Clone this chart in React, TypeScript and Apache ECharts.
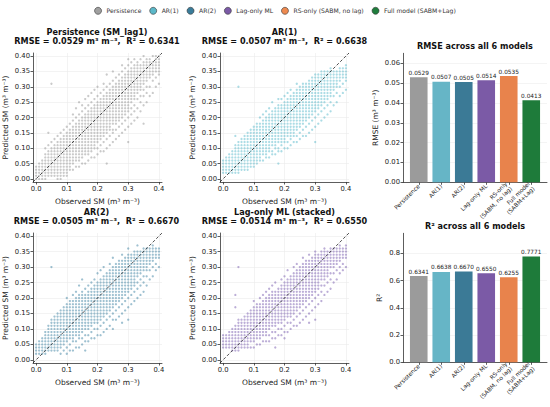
import React, { useEffect, useRef } from "react";
import * as echarts from "echarts";

// ---------------- data ----------------
const modelNames = [
  "Persistence",
  "AR(1)",
  "AR(2)",
  "Lag-only ML",
  "RS-only (SABM, no lag)",
  "Full model (SABM+Lag)",
];
const barLabels = [
  "Persistence",
  "AR(1)",
  "AR(2)",
  "Lag-only ML",
  "RS-only\n(SABM, no lag)",
  "Full model\n(SABM+Lag)",
];
const rmseValues = [0.0529, 0.0507, 0.0505, 0.0514, 0.0535, 0.0413];
const r2Values = [0.6341, 0.6638, 0.667, 0.655, 0.6255, 0.7771];

const scatterTitles = [
  ["Persistence (SM_lag1)", "RMSE = 0.0529 m³ m⁻³,  R² = 0.6341"],
  ["AR(1)", "RMSE = 0.0507 m³ m⁻³,  R² = 0.6638"],
  ["AR(2)", "RMSE = 0.0505 m³ m⁻³,  R² = 0.6670"],
  ["Lag-only ML (stacked)", "RMSE = 0.0514 m³ m⁻³,  R² = 0.6550"],
];
const barTitles = ["RMSE across all 6 models", "R² across all 6 models"];

const smLimits = [-0.01, 0.41];
const smXTicks = [0, 0.1, 0.2, 0.3, 0.4];
const smYTicks = [0, 0.05, 0.1, 0.15, 0.2, 0.25, 0.3, 0.35, 0.4];
const rmseTicks = [0, 0.01, 0.02, 0.03, 0.04, 0.05, 0.06];
const r2Ticks = [0, 0.2, 0.4, 0.6, 0.8];
const barSlots = [0, 1, 2, 3, 4, 5];

// Scatter columns: first entry = observed SM (hundredths), rest = predicted SM (hundredths)
const persistenceCols: number[][] = [
  [0, 0, 1, 2, 3, 4],
  [1, 0, 1, 2, 3, 4, 5],
  [2, 0, 1, 2, 3, 4, 5, 6],
  [3, 0, 1, 2, 3, 4, 5, 6, 7, 8, 10],
  [4, 1, 2, 3, 4, 5, 6, 7, 8, 9, 11, 15],
  [5, 1, 2, 3, 4, 5, 6, 7, 8, 9, 10, 12, 31],
  [6, 1, 2, 3, 4, 5, 6, 7, 8, 9, 10, 11, 13],
  [7, 0, 1, 2, 3, 4, 5, 6, 7, 8, 9, 10, 11, 12, 14],
  [8, 0, 1, 2, 3, 4, 5, 6, 7, 8, 9, 10, 11, 12, 13, 15],
  [9, 1, 2, 3, 4, 5, 6, 7, 8, 9, 10, 11, 12, 13, 14, 16],
  [10, 1, 2, 3, 4, 5, 6, 7, 8, 9, 10, 11, 12, 13, 14, 15, 17],
  [11, 3, 4, 5, 6, 7, 8, 9, 10, 11, 12, 13, 14, 15, 16, 18],
  [12, 3, 5, 6, 7, 8, 9, 10, 11, 12, 13, 14, 15, 16, 17, 19, 21],
  [13, 4, 6, 7, 8, 9, 10, 11, 12, 13, 14, 15, 16, 17, 18, 20, 23],
  [14, 4, 6, 7, 8, 9, 10, 11, 12, 13, 14, 15, 16, 17, 18, 19, 21, 25],
  [15, 5, 7, 8, 9, 10, 11, 12, 13, 14, 15, 16, 17, 18, 19, 20, 22, 24],
  [16, 5, 8, 9, 10, 11, 12, 13, 14, 15, 16, 17, 18, 19, 20, 21, 23, 26],
  [17, 6, 8, 9, 10, 11, 12, 13, 14, 15, 16, 17, 18, 19, 20, 21, 22, 24, 27],
  [18, 7, 9, 10, 11, 12, 13, 14, 15, 16, 17, 18, 19, 20, 21, 22, 23, 25, 28],
  [19, 7, 10, 11, 12, 13, 14, 15, 16, 17, 18, 19, 20, 21, 22, 23, 24, 26, 29],
  [20, 8, 10, 12, 13, 14, 15, 16, 17, 18, 19, 20, 21, 22, 23, 24, 25, 27, 30],
  [21, 9, 11, 13, 14, 15, 16, 17, 18, 19, 20, 21, 22, 23, 24, 25, 26, 28],
  [22, 9, 12, 14, 15, 16, 17, 18, 19, 20, 21, 22, 23, 24, 25, 26, 27, 29, 31],
  [23, 5, 10, 13, 15, 16, 17, 18, 19, 20, 21, 22, 23, 24, 25, 26, 27, 28, 30, 34],
  [24, 11, 14, 16, 17, 18, 19, 20, 21, 22, 23, 24, 25, 26, 27, 28, 29, 31],
  [25, 12, 15, 16, 18, 19, 20, 21, 22, 23, 24, 25, 26, 27, 28, 29, 30, 32, 35],
  [26, 13, 16, 18, 19, 20, 21, 22, 23, 24, 25, 26, 27, 28, 29, 30, 31, 33],
  [27, 14, 17, 19, 20, 21, 22, 23, 24, 25, 26, 27, 28, 29, 30, 31, 32, 34],
  [28, 15, 18, 20, 21, 22, 23, 24, 25, 26, 27, 28, 29, 30, 31, 32, 33, 35, 37],
  [29, 16, 19, 21, 22, 23, 24, 25, 26, 27, 28, 29, 30, 31, 32, 33, 34, 36],
  [30, 12, 17, 20, 22, 23, 24, 25, 26, 27, 28, 29, 30, 31, 32, 33, 34, 35, 37, 39],
  [31, 18, 21, 23, 25, 26, 27, 28, 29, 30, 31, 32, 33, 34, 35, 36, 38],
  [32, 19, 22, 24, 26, 27, 28, 29, 30, 31, 32, 33, 34, 35, 36, 37, 39],
  [33, 20, 23, 26, 28, 29, 30, 31, 32, 33, 34, 35, 36, 37, 38],
  [34, 22, 25, 27, 29, 30, 31, 32, 33, 34, 35, 36, 37, 39],
  [35, 18, 24, 27, 29, 31, 32, 33, 34, 35, 36, 37, 38, 40],
  [36, 25, 28, 30, 32, 33, 34, 35, 36, 37, 38, 39],
  [37, 27, 30, 33, 34, 35, 36, 37, 38, 39],
  [38, 28, 32, 34, 35, 36, 37, 38, 40],
  [39, 30, 33, 35, 36, 37, 38, 39, 40],
  [40, 31, 34, 35, 36, 37, 38, 39, 40],
];

const ar1Cols: number[][] = [
  [0, 2, 3, 4, 5, 6],
  [1, 2, 3, 4, 5, 6, 7],
  [2, 2, 3, 4, 5, 6, 7, 8],
  [3, 2, 3, 4, 5, 6, 7, 8, 9],
  [4, 2, 3, 4, 5, 6, 7, 8, 9, 10, 11, 14],
  [5, 2, 3, 4, 5, 6, 7, 8, 9, 10, 11, 12, 30],
  [6, 3, 4, 5, 6, 7, 8, 9, 10, 11, 12, 13],
  [7, 3, 4, 5, 6, 7, 8, 9, 10, 11, 12, 13, 14],
  [8, 3, 4, 5, 6, 7, 8, 9, 10, 11, 12, 13, 14, 15],
  [9, 4, 5, 6, 7, 8, 9, 10, 11, 12, 13, 14, 15, 16],
  [10, 4, 5, 6, 7, 8, 9, 10, 11, 12, 13, 14, 15, 16, 17],
  [11, 5, 6, 7, 8, 9, 10, 11, 12, 13, 14, 15, 16, 17, 18],
  [12, 6, 7, 8, 9, 10, 11, 12, 13, 14, 15, 16, 17, 18, 20],
  [13, 6, 8, 9, 10, 11, 12, 13, 14, 15, 16, 17, 18, 19, 21],
  [14, 7, 8, 9, 10, 11, 12, 13, 14, 15, 16, 17, 18, 19, 20, 22],
  [15, 7, 9, 10, 11, 12, 13, 14, 15, 16, 17, 18, 19, 20, 21, 23],
  [16, 8, 9, 11, 12, 13, 14, 15, 16, 17, 18, 19, 20, 21, 22, 25],
  [17, 8, 10, 11, 12, 13, 14, 15, 16, 17, 18, 19, 20, 21, 22, 23],
  [18, 5, 9, 10, 12, 13, 14, 15, 16, 17, 18, 19, 20, 21, 22, 23, 24, 26],
  [19, 9, 11, 12, 13, 14, 15, 16, 17, 18, 19, 20, 21, 22, 23, 24, 26],
  [20, 10, 12, 13, 14, 15, 16, 17, 18, 19, 20, 21, 22, 23, 24, 25, 27],
  [21, 10, 12, 14, 15, 16, 17, 18, 19, 20, 21, 22, 23, 24, 25, 26, 28],
  [22, 11, 13, 14, 15, 16, 17, 18, 19, 20, 21, 22, 23, 24, 25, 26, 27, 29],
  [23, 12, 14, 15, 16, 17, 18, 19, 20, 21, 22, 23, 24, 25, 26, 27, 28],
  [24, 12, 14, 16, 17, 18, 19, 20, 21, 22, 23, 24, 25, 26, 27, 28, 29, 31],
  [25, 13, 15, 17, 18, 19, 20, 21, 22, 23, 24, 25, 26, 27, 28, 29, 30],
  [26, 14, 16, 18, 19, 20, 21, 22, 23, 24, 25, 26, 27, 28, 29, 30, 31],
  [27, 14, 17, 19, 20, 21, 22, 23, 24, 25, 26, 27, 28, 29, 30, 31],
  [28, 15, 18, 20, 21, 22, 23, 24, 25, 26, 27, 28, 29, 30, 31, 32],
  [29, 16, 19, 21, 22, 23, 24, 25, 26, 27, 28, 29, 30, 31, 32, 33],
  [30, 12, 17, 20, 22, 23, 24, 25, 26, 27, 28, 29, 30, 31, 32, 33, 34],
  [31, 18, 21, 23, 24, 25, 26, 27, 28, 29, 30, 31, 32, 33, 34],
  [32, 19, 22, 24, 25, 26, 27, 28, 29, 30, 31, 32, 33, 34, 35],
  [33, 20, 23, 25, 26, 27, 28, 29, 30, 31, 32, 33, 34, 35],
  [34, 21, 24, 26, 27, 28, 29, 30, 31, 32, 33, 34, 35],
  [35, 22, 25, 27, 28, 29, 30, 31, 32, 33, 34, 35, 36],
  [36, 24, 27, 29, 30, 31, 32, 33, 34, 35],
  [37, 25, 28, 30, 31, 32, 33, 34, 35],
  [38, 27, 30, 32, 33, 34, 35, 36],
  [39, 28, 31, 33, 34, 35, 36],
  [40, 29, 32, 33, 34, 35, 36, 37],
];

const ar2Cols: number[][] = [
  [0, 2, 3, 4, 5],
  [1, 2, 3, 4, 5, 6],
  [2, 2, 3, 4, 5, 6, 7],
  [3, 2, 3, 4, 5, 6, 7, 8, 9],
  [4, 3, 4, 5, 6, 7, 8, 9, 10, 11],
  [5, 3, 4, 5, 6, 7, 8, 9, 10, 11, 12, 13, 30],
  [6, 3, 4, 5, 6, 7, 8, 9, 10, 11, 12, 13, 14],
  [7, 3, 4, 5, 6, 7, 8, 9, 10, 11, 12, 13, 14, 15],
  [8, 2, 4, 5, 6, 7, 8, 9, 10, 11, 12, 13, 14, 15, 16],
  [9, 3, 5, 6, 7, 8, 9, 10, 11, 12, 13, 14, 15, 16, 17],
  [10, 2, 4, 6, 7, 8, 9, 10, 11, 12, 13, 14, 15, 16, 17, 18, 20],
  [11, 3, 5, 7, 8, 9, 10, 11, 12, 13, 14, 15, 16, 17, 18, 19],
  [12, 3, 6, 7, 8, 9, 10, 11, 12, 13, 14, 15, 16, 17, 18, 19, 21],
  [13, 4, 6, 8, 9, 10, 11, 12, 13, 14, 15, 16, 17, 18, 19, 20, 22],
  [14, 4, 7, 8, 9, 10, 11, 12, 13, 14, 15, 16, 17, 18, 19, 20, 21, 24],
  [15, 5, 7, 9, 10, 11, 12, 13, 14, 15, 16, 17, 18, 19, 20, 21, 22, 26],
  [16, 3, 6, 8, 10, 11, 12, 13, 14, 15, 16, 17, 18, 19, 20, 21, 23],
  [17, 6, 8, 10, 11, 12, 13, 14, 15, 16, 17, 18, 19, 20, 21, 22, 24],
  [18, 7, 9, 11, 12, 13, 14, 15, 16, 17, 18, 19, 20, 21, 22, 23, 25],
  [19, 7, 10, 12, 13, 14, 15, 16, 17, 18, 19, 20, 21, 22, 23, 24, 26],
  [20, 8, 10, 12, 13, 14, 15, 16, 17, 18, 19, 20, 21, 22, 23, 24, 25, 28],
  [21, 8, 11, 13, 14, 15, 16, 17, 18, 19, 20, 21, 22, 23, 24, 25, 26, 29],
  [22, 9, 12, 14, 15, 16, 17, 18, 19, 20, 21, 22, 23, 24, 25, 26, 27, 30],
  [23, 10, 13, 15, 16, 17, 18, 19, 20, 21, 22, 23, 24, 25, 26, 27, 28],
  [24, 11, 14, 16, 17, 18, 19, 20, 21, 22, 23, 24, 25, 26, 27, 28, 29, 31],
  [25, 10, 13, 15, 17, 18, 19, 20, 21, 22, 23, 24, 25, 26, 27, 28, 29, 30, 33],
  [26, 13, 16, 18, 19, 20, 21, 22, 23, 24, 25, 26, 27, 28, 29, 30, 31],
  [27, 14, 17, 19, 20, 21, 22, 23, 24, 25, 26, 27, 28, 29, 30, 31, 32],
  [28, 12, 15, 18, 20, 21, 22, 23, 24, 25, 26, 27, 28, 29, 30, 31, 32, 34],
  [29, 16, 19, 21, 22, 23, 24, 25, 26, 27, 28, 29, 30, 31, 32, 33],
  [30, 13, 17, 20, 22, 23, 24, 25, 26, 27, 28, 29, 30, 31, 32, 33, 34, 36],
  [31, 18, 21, 23, 24, 25, 26, 27, 28, 29, 30, 31, 32, 33, 34],
  [32, 19, 22, 24, 25, 26, 27, 28, 29, 30, 31, 32, 33, 34, 35],
  [33, 20, 23, 25, 27, 28, 29, 30, 31, 32, 33, 34, 35, 37],
  [34, 21, 24, 26, 28, 29, 30, 31, 32, 33, 34, 35],
  [35, 22, 25, 27, 29, 30, 31, 32, 33, 34, 35, 36],
  [36, 24, 27, 29, 30, 31, 32, 33, 34, 35, 36],
  [37, 26, 29, 31, 32, 33, 34, 35, 36],
  [38, 27, 30, 32, 33, 34, 35, 36, 37],
  [39, 29, 31, 33, 34, 35, 36],
  [40, 30, 33, 34, 35, 36],
];

const lagCols: number[][] = [
  [0, 4, 5, 6, 7, 8],
  [1, 4, 5, 6, 7, 8],
  [2, 4, 5, 6, 7, 8, 9],
  [3, 3, 4, 5, 6, 7, 8, 9, 10],
  [4, 3, 4, 5, 6, 7, 8, 9, 10, 11, 17, 21],
  [5, 3, 4, 5, 6, 7, 8, 9, 10, 11, 12, 13, 30],
  [6, 4, 5, 6, 7, 8, 9, 10, 11, 12, 13],
  [7, 4, 5, 6, 7, 8, 9, 10, 11, 12, 13, 14],
  [8, 4, 5, 6, 7, 8, 9, 10, 11, 12, 13, 14, 15],
  [9, 4, 6, 7, 8, 9, 10, 11, 12, 13, 14, 15, 16],
  [10, 4, 6, 7, 8, 9, 10, 11, 12, 13, 14, 15, 16, 17, 19],
  [11, 5, 7, 8, 9, 10, 11, 12, 13, 14, 15, 16, 17, 18],
  [12, 5, 7, 8, 9, 10, 11, 12, 13, 14, 15, 16, 17, 18, 20],
  [13, 6, 8, 9, 10, 11, 12, 13, 14, 15, 16, 17, 18, 19, 21],
  [14, 6, 8, 9, 10, 11, 12, 13, 14, 15, 16, 17, 18, 19, 20, 22],
  [15, 6, 8, 10, 11, 12, 13, 14, 15, 16, 17, 18, 19, 20, 21, 23],
  [16, 7, 9, 11, 12, 13, 14, 15, 16, 17, 18, 19, 20, 21, 22, 24],
  [17, 4, 7, 9, 11, 12, 13, 14, 15, 16, 17, 18, 19, 20, 21, 22, 25],
  [18, 8, 10, 12, 13, 14, 15, 16, 17, 18, 19, 20, 21, 22, 23],
  [19, 8, 10, 12, 13, 14, 15, 16, 17, 18, 19, 20, 21, 22, 23, 24, 26],
  [20, 7, 9, 11, 13, 14, 15, 16, 17, 18, 19, 20, 21, 22, 23, 24, 25, 27],
  [21, 9, 12, 14, 15, 16, 17, 18, 19, 20, 21, 22, 23, 24, 25, 26, 29],
  [22, 10, 12, 14, 15, 16, 17, 18, 19, 20, 21, 22, 23, 24, 25, 26, 27],
  [23, 11, 13, 15, 16, 17, 18, 19, 20, 21, 22, 23, 24, 25, 26, 27, 28, 30],
  [24, 11, 14, 16, 17, 18, 19, 20, 21, 22, 23, 24, 25, 26, 27, 28, 29, 31],
  [25, 12, 15, 17, 18, 19, 20, 21, 22, 23, 24, 25, 26, 27, 28, 29, 30],
  [26, 13, 16, 18, 19, 20, 21, 22, 23, 24, 25, 26, 27, 28, 29, 30, 31, 33],
  [27, 14, 17, 19, 20, 21, 22, 23, 24, 25, 26, 27, 28, 29, 30, 31, 32],
  [28, 12, 15, 18, 20, 21, 22, 23, 24, 25, 26, 27, 28, 29, 30, 31, 32, 34],
  [29, 16, 19, 21, 22, 23, 24, 25, 26, 27, 28, 29, 30, 31, 32, 33],
  [30, 13, 17, 20, 22, 23, 24, 25, 26, 27, 28, 29, 30, 31, 32, 33, 34, 35],
  [31, 18, 21, 23, 24, 25, 26, 27, 28, 29, 30, 31, 32, 33, 34],
  [32, 19, 22, 24, 26, 27, 28, 29, 30, 31, 32, 33, 34, 35],
  [33, 21, 24, 26, 27, 28, 29, 30, 31, 32, 33, 34, 35, 36],
  [34, 22, 25, 27, 28, 29, 30, 31, 32, 33, 34, 35],
  [35, 23, 26, 28, 30, 31, 32, 33, 34, 35, 36],
  [36, 25, 28, 30, 31, 32, 33, 34, 35, 36],
  [37, 26, 29, 31, 32, 33, 34, 35, 36],
  [38, 28, 30, 32, 33, 34, 35, 36, 37],
  [39, 29, 31, 33, 34, 35, 36],
  [40, 30, 33, 34, 35, 36, 37],
];

// ---------------- styling ----------------
const FONT = "DejaVu Sans";
const scatterColors = ["#8a8a8a", "#46b2c6", "#2b7598", "#6b4ca6"];
const barColors = ["#9b9b9b", "#66b5c6", "#3b7a96", "#7b5aa6", "#e8834c", "#1e7b3a"];
const legendColors = ["#a0a0a0", "#5bb8c9", "#3a7c9a", "#7b5aa6", "#ee8a50", "#1f7d3c"];

const scatterGrids = [
  { left: 32, top: 53, width: 130, height: 129 },
  { left: 220, top: 53, width: 129, height: 129 },
  { left: 31, top: 233, width: 131, height: 130 },
  { left: 220, top: 233, width: 129, height: 130 },
];
const barGrids = [
  { left: 403, top: 53.3, width: 144, height: 129 },
  { left: 403, top: 233.3, width: 144, height: 129 },
];

const toPoints = (cols: number[][]) =>
  cols.flatMap((c) => c.slice(1).map((y) => [c[0] / 100, y / 100]));

const axisLine = { show: true, onZero: false, lineStyle: { color: "#333", width: 0.8 } };
const tickStyle = { color: "#333", width: 0.8 };
const labelStyle = { fontSize: 6.8, color: "#222", fontFamily: FONT };
const nameStyle = { fontSize: 7.5, color: "#222", fontFamily: FONT };

function buildOption() {
  const grid: any[] = [...scatterGrids, ...barGrids];
  const xAxis: any[] = [];
  const yAxis: any[] = [];
  const series: any[] = [];
  const graphic: any[] = [];

  const allCols = [persistenceCols, ar1Cols, ar2Cols, lagCols];
  allCols.forEach((cols, i) => {
    xAxis.push({
      type: "value",
      gridIndex: i,
      min: smLimits[0],
      max: smLimits[1],
      name: "Observed SM (m³ m⁻³)",
      nameLocation: "middle",
      nameGap: 15,
      nameTextStyle: nameStyle,
      axisLine,
      axisTick: { show: true, length: 2.5, customValues: smXTicks, lineStyle: tickStyle },
      axisLabel: { ...labelStyle, margin: 3, customValues: smXTicks, formatter: (v: number) => v.toFixed(1) },
      splitLine: { show: true, lineStyle: { color: "#ebebeb", width: 0.6 } },
    });
    yAxis.push({
      type: "value",
      gridIndex: i,
      min: smLimits[0],
      max: smLimits[1],
      name: "Predicted SM (m³ m⁻³)",
      nameLocation: "middle",
      nameGap: 24,
      nameTextStyle: nameStyle,
      axisLine,
      axisTick: { show: true, length: 2.5, customValues: smYTicks, lineStyle: tickStyle },
      axisLabel: { ...labelStyle, margin: 3, customValues: smYTicks, formatter: (v: number) => v.toFixed(2) },
      splitLine: { show: true, lineStyle: { color: "#ebebeb", width: 0.6 } },
    });
    series.push({
      type: "scatter",
      name: modelNames[i],
      xAxisIndex: i,
      yAxisIndex: i,
      symbol: "circle",
      symbolSize: 2.3,
      itemStyle: { color: scatterColors[i], opacity: 0.45 },
      data: toPoints(cols),
      silent: true,
    });
    series.push({
      type: "line",
      xAxisIndex: i,
      yAxisIndex: i,
      data: [
        [smLimits[0], smLimits[0]],
        [smLimits[1], smLimits[1]],
      ],
      symbol: "none",
      lineStyle: { color: "#222", width: 0.8, type: [3, 2] },
      z: 5,
      silent: true,
    });
    const g = scatterGrids[i];
    const cx = g.left + g.width / 2;
    const ty = i < 2 ? 36.5 : 216.5;
    graphic.push({
      type: "text",
      x: cx,
      y: ty,
      style: {
        text: scatterTitles[i][0] + "\n" + scatterTitles[i][1],
        align: "center",
        verticalAlign: "middle",
        fontFamily: FONT,
        fontWeight: "bold",
        fontSize: 8.1,
        lineHeight: 9.8,
        fill: "#111",
      },
    });
  });

  const barSets = [
    { values: rmseValues, ticks: rmseTicks, max: 0.065, name: "RMSE (m³ m⁻³)", gap: 24, dec: 2 },
    { values: r2Values, ticks: r2Ticks, max: 0.948, name: "R²", gap: 20, dec: 1 },
  ];
  barSets.forEach((b, k) => {
    const gi = 4 + k;
    xAxis.push({
      type: "value",
      gridIndex: gi,
      min: -0.7,
      max: 5.7,
      axisLine,
      axisTick: { show: true, length: 2.5, customValues: barSlots, lineStyle: tickStyle },
      axisLabel: {
        fontSize: 5.8,
        color: "#222",
        fontFamily: FONT,
        rotate: 45,
        margin: 3,
        lineHeight: 6.8,
        customValues: barSlots,
        formatter: (v: number) => barLabels[Math.round(v)],
      },
      splitLine: { show: false },
    });
    yAxis.push({
      type: "value",
      gridIndex: gi,
      min: 0,
      max: b.max,
      name: b.name,
      nameLocation: "middle",
      nameGap: b.gap,
      nameTextStyle: nameStyle,
      axisLine,
      axisTick: { show: true, length: 2.5, customValues: b.ticks, lineStyle: tickStyle },
      axisLabel: { ...labelStyle, margin: 3, customValues: b.ticks, formatter: (v: number) => v.toFixed(b.dec) },
      splitLine: { show: true, lineStyle: { color: "#ececec", width: 0.6 } },
    });
    series.push({
      type: "bar",
      xAxisIndex: gi,
      yAxisIndex: gi,
      barWidth: 17.6,
      data: b.values.map((v, i) => ({ value: [i, v], itemStyle: { color: barColors[i] } })),
      label: {
        show: true,
        position: "top",
        distance: 1.5,
        fontSize: 5.8,
        color: "#222",
        fontFamily: FONT,
        formatter: (p: any) => p.value[1].toFixed(4),
      },
      silent: true,
    });
    const g = barGrids[k];
    graphic.push({
      type: "text",
      x: g.left + g.width / 2,
      y: k === 0 ? 46 : 226,
      style: {
        text: barTitles[k],
        align: "center",
        verticalAlign: "middle",
        fontFamily: FONT,
        fontWeight: "bold",
        fontSize: 8.1,
        fill: "#111",
      },
    });
  });

  // legend-only entries
  [4, 5].forEach((i) => {
    series.push({
      type: "scatter",
      name: modelNames[i],
      xAxisIndex: 0,
      yAxisIndex: 0,
      itemStyle: { color: legendColors[i] },
      data: [],
    });
  });

  return {
    animation: false,
    backgroundColor: "#ffffff",
    textStyle: { fontFamily: FONT },
    legend: {
      top: 2,
      left: "center",
      icon: "circle",
      itemWidth: 7,
      itemHeight: 7,
      itemGap: 8,
      selectedMode: false,
      textStyle: { fontSize: 6.1, color: "#333", fontFamily: FONT },
      data: modelNames.map((n, i) => ({
        name: n,
        itemStyle: { color: legendColors[i], borderColor: "#333", borderWidth: 0.6, opacity: 1 },
      })),
    },
    grid,
    xAxis,
    yAxis,
    series,
    graphic,
  };
}

export default function App() {
  const ref = useRef<HTMLDivElement>(null);
  useEffect(() => {
    if (!ref.current) return;
    const chart = echarts.init(ref.current, null, { renderer: "svg" });
    chart.setOption(buildOption() as any);
    return () => chart.dispose();
  }, []);
  return (
    <div
      ref={ref}
      style={{ position: "absolute", left: 0, top: 0, width: 550, height: 407, background: "#fff" }}
    />
  );
}
